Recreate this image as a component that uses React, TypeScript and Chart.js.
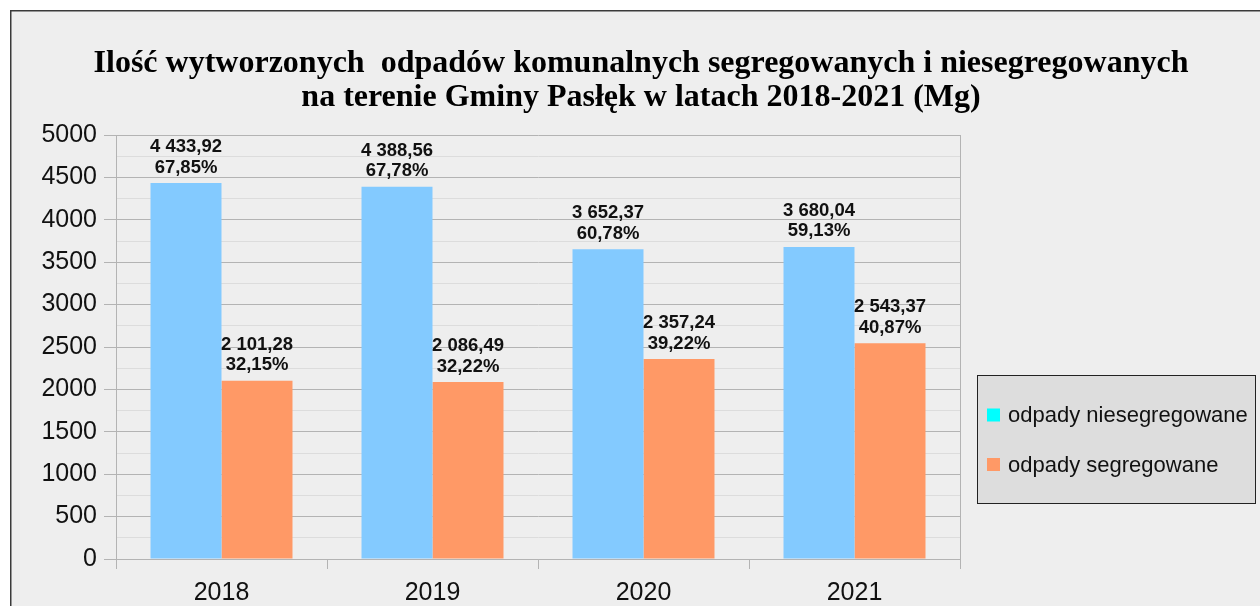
import React, { useEffect, useRef } from 'react';
import { Chart, registerables } from 'chart.js';

Chart.register(...registerables);

const categories = ['2018', '2019', '2020', '2021'];
const unsegregated = [4433.92, 4388.56, 3652.37, 3680.04];
const segregated = [2101.28, 2086.49, 2357.24, 2543.37];
const unsegregatedPct = [67.85, 67.78, 60.78, 59.13];
const segregatedPct = [32.15, 32.22, 39.22, 40.87];
const seriesNames = ['odpady niesegregowane', 'odpady segregowane'];
const titleLines = [
  'Ilość wytworzonych  odpadów komunalnych segregowanych i niesegregowanych',
  'na terenie Gminy Pasłęk w latach 2018-2021 (Mg)',
];
const yMin = 0;
const yMax = 5000;
const yStep = 250;
const yLabelStep = 500;

const W = 1260;
const H = 606;
const BAR_COLORS = ['#83caff', '#ff9966'];
const LEGEND_COLORS = ['#00ffff', '#ff9966'];
const SANS = "'Liberation Sans', Arial, sans-serif";
const SERIF = "'Liberation Serif', 'Times New Roman', serif";

function fmtValue(v: number): string {
  const [i, d] = v.toFixed(2).split('.');
  const withSpaces = i.replace(/\B(?=(\d{3})+(?!\d))/g, ' ');
  return withSpaces + ',' + d;
}
function fmtPct(v: number): string {
  return v.toFixed(2).replace('.', ',') + '%';
}

const pctSeries = [unsegregatedPct, segregatedPct];

const decorPlugin = {
  id: 'decor',
  beforeDraw(chart: any) {
    const c = chart.ctx;
    c.save();
    c.fillStyle = '#ffffff';
    c.fillRect(0, 0, W, H);
    c.fillStyle = '#eeeeee';
    c.fillRect(10, 10, W, H);
    c.strokeStyle = '#3a3a3a';
    c.lineWidth = 1.5;
    c.beginPath();
    c.moveTo(10.75, H);
    c.lineTo(10.75, 10.75);
    c.lineTo(W, 10.75);
    c.stroke();
    // title
    c.fillStyle = '#000';
    c.font = `bold 32px ${SERIF}`;
    c.textAlign = 'center';
    c.textBaseline = 'alphabetic';
    c.fillText(titleLines[0], 641, 71.5);
    c.fillText(titleLines[1], 641, 106);
    c.restore();
  },
  afterDraw(chart: any) {
    const c = chart.ctx;
    const area = chart.chartArea;
    c.save();
    // right border of plot
    c.strokeStyle = '#b3b3b3';
    c.lineWidth = 1;
    c.beginPath();
    c.moveTo(Math.round(area.right) + 0.5, area.top);
    c.lineTo(Math.round(area.right) + 0.5, area.bottom + 10);
    c.stroke();

    // data labels
    c.fillStyle = '#111';
    c.font = `bold 18.5px ${SANS}`;
    c.textAlign = 'center';
    c.textBaseline = 'alphabetic';
    chart.data.datasets.forEach((ds: any, di: number) => {
      const meta = chart.getDatasetMeta(di);
      meta.data.forEach((bar: any, i: number) => {
        const x = bar.x;
        const top = bar.y;
        c.fillText(fmtValue(ds.data[i]), x, top - 31);
        c.fillText(fmtPct(pctSeries[di][i]), x, top - 10.5);
      });
    });

    // legend
    const lx = 977, ly = 375, lw = 278, lh = 128;
    c.fillStyle = '#dddddd';
    c.fillRect(lx, ly, lw, lh);
    c.strokeStyle = '#222';
    c.lineWidth = 1;
    c.strokeRect(lx + 0.5, ly + 0.5, lw, lh);
    c.font = `22px ${SANS}`;
    c.textAlign = 'left';
    c.textBaseline = 'middle';
    seriesNames.forEach((name, i) => {
      const cy = 415 + i * 49.5;
      c.fillStyle = LEGEND_COLORS[i];
      c.fillRect(987, cy - 6.5, 13, 13);
      c.fillStyle = '#111';
      c.fillText(name, 1008, cy + 1);
    });
    c.restore();
  },
};

export default function App() {
  const ref = useRef<HTMLCanvasElement | null>(null);
  useEffect(() => {
    if (!ref.current) return;
    const chart = new Chart(ref.current, {
      type: 'bar',
      data: {
        labels: categories,
        datasets: [
          {
            label: seriesNames[0],
            data: unsegregated,
            backgroundColor: BAR_COLORS[0],
            categoryPercentage: 0.673,
            barPercentage: 1.0,
          },
          {
            label: seriesNames[1],
            data: segregated,
            backgroundColor: BAR_COLORS[1],
            categoryPercentage: 0.673,
            barPercentage: 1.0,
          },
        ],
      },
      options: {
        responsive: false,
        animation: false,
        layout: { padding: { left: 0, right: 300, top: 135, bottom: 0 } },
        plugins: {
          legend: { display: false },
          title: { display: false },
          tooltip: { enabled: false },
        },
        scales: {
          x: {
            grid: {
              offset: true,
              drawOnChartArea: false,
              color: 'rgba(0,0,0,0)',
              tickColor: '#b3b3b3',
              tickLength: 10,
            },
            border: { color: '#b3b3b3' },
            ticks: {
              font: { family: SANS, size: 25 },
              color: '#111',
              padding: 9,
            },
            afterFit: (s: any) => {
              s.height = 47;
            },
          },
          y: {
            min: yMin,
            max: yMax,
            ticks: {
              stepSize: yStep,
              autoSkip: false,
              callback: (v: any) => (Number(v) % yLabelStep === 0 ? String(v) : ''),
              font: { family: SANS, size: 25 },
              color: '#111',
              padding: 7,
            },
            grid: {
              color: (ctx: any) =>
                ctx.tick && ctx.tick.value % yLabelStep === 0 ? '#b3b3b3' : '#dcdcdc',
              tickColor: (ctx: any) =>
                ctx.tick && ctx.tick.value % yLabelStep === 0 ? '#b3b3b3' : 'rgba(0,0,0,0)',
              tickLength: 12,
            },
            border: { color: '#b3b3b3' },
            afterFit: (s: any) => {
              s.width = 116;
            },
          },
        },
      },
      plugins: [decorPlugin],
    } as any);
    return () => chart.destroy();
  }, []);
  return (
    <div style={{ position: 'fixed', left: 0, top: 0, width: W, height: H, background: '#fff' }}>
      <canvas ref={ref} width={W} height={H} style={{ display: 'block', width: W, height: H }} />
    </div>
  );
}
